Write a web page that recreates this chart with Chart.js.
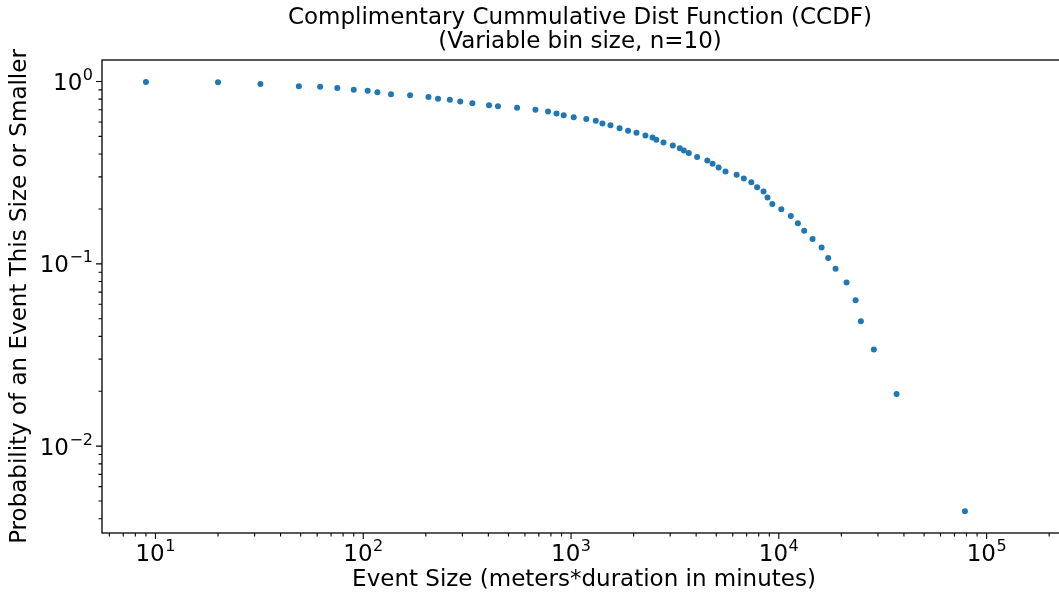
<!DOCTYPE html>
<html>
<head>
<meta charset="utf-8">
<script src="https://cdn.jsdelivr.net/npm/chart.js@4.4.1/dist/chart.umd.min.js"></script>
<style>
  html, body { margin: 0; padding: 0; background: #fff; overflow: hidden; }
</style>
</head>
<body>
<canvas id="ccdf" width="1070" height="597"></canvas>
<script>
// Values (event size vs. cumulative probability)
const eventSize = [9, 20, 32, 49, 62, 75, 90, 105, 117, 136, 168, 206, 229, 261, 293, 335, 403, 445, 550, 674,
  775, 851, 922, 1030, 1184, 1315, 1416, 1548, 1712, 1881, 2065, 2281, 2466, 2572, 2786, 3088, 3337, 3488, 3687, 4043,
  4528, 4801, 5131, 5538, 6264, 6784, 7372, 7863, 8441, 8823, 9305, 10280, 11420, 12350, 13240, 14530, 16060, 17280, 18750, 21180,
  23410, 24820, 28670, 36870, 78630];
const probability = [0.995, 0.991, 0.969, 0.942, 0.935, 0.921, 0.902, 0.890, 0.873, 0.851, 0.841, 0.822, 0.804, 0.795, 0.777, 0.760, 0.742, 0.732, 0.718, 0.700,
  0.685, 0.668, 0.654, 0.637, 0.623, 0.609, 0.589, 0.576, 0.555, 0.537, 0.524, 0.506, 0.493, 0.479, 0.463, 0.446, 0.430, 0.419, 0.405, 0.385,
  0.369, 0.354, 0.338, 0.321, 0.308, 0.294, 0.280, 0.263, 0.249, 0.231, 0.213, 0.199, 0.183, 0.167, 0.152, 0.137, 0.123, 0.1076, 0.0939, 0.0789,
  0.0631, 0.0484, 0.0339, 0.0193, 0.00439];

// Tick labels are powers of ten
const xTickPowers = [1, 2, 3, 4, 5];
const yTickPowers = [0, -1, -2];

const titleLines = ['Complimentary Cummulative Dist Function (CCDF)', '(Variable bin size, n=10)'];
const xLabel = 'Event Size (meters*duration in minutes)';
const yLabel = 'Probability of an Event This Size or Smaller';

const FONT = "'DejaVu Sans', sans-serif";
const BASE = 23, SUP = 16;

function supText(exp) {
    return exp < 0 ? '\u2212' + (-exp) : String(exp);
}

// draws "10" with a raised exponent, left edge at x
function drawPower(ctx, exp, x, baseline) {
    ctx.font = BASE + 'px ' + FONT;
    ctx.fillText('10', x, baseline);
    const w = ctx.measureText('10').width;
    ctx.font = SUP + 'px ' + FONT;
    ctx.fillText(supText(exp), x + w + 0.5, baseline - 10);
}

function powerWidth(ctx, exp) {
    ctx.font = BASE + 'px ' + FONT;
    const w = ctx.measureText('10').width;
    ctx.font = SUP + 'px ' + FONT;
    return w + 0.5 + ctx.measureText(supText(exp)).width;
}

// matplotlib-like frame, log ticks, tick labels and the title over the axes
const axisDecor = {
    id: 'axisDecor',
    afterDraw(chart) {
        const { ctx, chartArea: a, scales: { x, y } } = chart;
        ctx.save();
        ctx.strokeStyle = '#000';
        ctx.lineWidth = 1.3;
        ctx.strokeRect(a.left, a.top, a.right - a.left, a.bottom - a.top);

        const eachLogTick = (scale, fn) => {
            const lo = Math.floor(Math.log10(scale.min));
            const hi = Math.ceil(Math.log10(scale.max));
            for (let p = lo; p <= hi; p++) {
                for (let m = 1; m <= 9; m++) {
                    const v = m * Math.pow(10, p);
                    if (v < scale.min || v > scale.max) continue;
                    fn(scale.getPixelForValue(v), m === 1);
                }
            }
        };
        ctx.lineWidth = 1.1;
        ctx.beginPath();
        eachLogTick(x, (px, major) => {
            ctx.moveTo(px, a.bottom);
            ctx.lineTo(px, a.bottom + (major ? 6 : 3.5));
        });
        eachLogTick(y, (py, major) => {
            ctx.moveTo(a.left, py);
            ctx.lineTo(a.left - (major ? 6 : 3.5), py);
        });
        ctx.stroke();

        ctx.fillStyle = '#000';
        ctx.textAlign = 'left';
        ctx.textBaseline = 'alphabetic';
        xTickPowers.forEach(p => {
            const px = x.getPixelForValue(Math.pow(10, p));
            const w = powerWidth(ctx, p);
            drawPower(ctx, p, px - w / 2, a.bottom + 28);
        });
        yTickPowers.forEach(p => {
            const py = y.getPixelForValue(Math.pow(10, p));
            const w = powerWidth(ctx, p);
            drawPower(ctx, p, a.left - 9 - w, py + 8.4);
        });

        // title centred over the plot box (the frame runs past the right edge)
        ctx.font = BASE + 'px ' + FONT;
        ctx.textAlign = 'center';
        ctx.textBaseline = 'middle';
        const cx = (a.left + a.right) / 2 - 4;
        titleLines.forEach((line, i) => ctx.fillText(line, cx, 18 + i * 24));
        ctx.restore();
    }
};

const points = eventSize.map((v, i) => ({ x: v, y: probability[i] }));

new Chart(document.getElementById('ccdf'), {
    type: 'scatter',
    data: {
        datasets: [{
            data: points,
            backgroundColor: '#1f77b4',
            borderColor: '#1f77b4',
            borderWidth: 0,
            pointRadius: 3
        }]
    },
    options: {
        responsive: false,
        animation: false,
        devicePixelRatio: 1,
        layout: { padding: { left: 0, right: 4, top: 60, bottom: 0 } },
        plugins: {
            legend: { display: false },
            tooltip: { enabled: false },
            title: { display: false }
        },
        scales: {
            x: {
                type: 'logarithmic',
                min: 5.53,
                max: 241000,
                grid: { display: false },
                border: { display: false },
                ticks: { display: false },
                title: {
                    display: true,
                    text: xLabel,
                    color: '#000',
                    font: { family: FONT, size: BASE, weight: 'normal' },
                    padding: { top: 0, bottom: 3 }
                },
                afterFit: s => { s.height = 64; }
            },
            y: {
                type: 'logarithmic',
                min: 0.00334,
                max: 1.312,
                grid: { display: false },
                border: { display: false },
                ticks: { display: false },
                title: {
                    display: true,
                    text: yLabel,
                    color: '#000',
                    font: { family: FONT, size: BASE, weight: 'normal' },
                    padding: { top: 6, bottom: 0 }
                },
                afterFit: s => { s.width = 102; }
            }
        }
    },
    plugins: [axisDecor]
});
</script>
</body>
</html>
